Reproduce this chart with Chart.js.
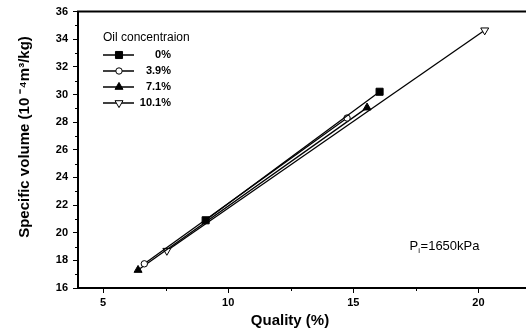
<!DOCTYPE html>
<html>
<head>
<meta charset="utf-8">
<script src="https://cdn.jsdelivr.net/npm/chart.js@4.4.1/dist/chart.umd.min.js"></script>
<style>
html, body { margin: 0; padding: 0; background: #fff; overflow: hidden; }
canvas { display: block; }
</style>
</head>
<body>
<canvas id="myChart" width="526" height="331"></canvas>
<script>
var concentrations = ['0%', '3.9%', '7.1%', '10.1%'];
var quality00 = [9.1, 16.05];
var volume00 = [20.9, 30.2];
var quality39 = [6.65, 14.75];
var volume39 = [17.75, 28.3];
var quality71 = [6.4, 15.55];
var volume71 = [17.3, 29.05];
var quality101 = [7.55, 20.25];
var volume101 = [18.7, 34.65];
var xTicks = [5, 10, 15, 20];
var xMinorTicks = [7.5, 12.5, 17.5];
var yTicks = [16, 18, 20, 22, 24, 26, 28, 30, 32, 34, 36];
var yMinorTicks = [17, 19, 21, 23, 25, 27, 29, 31, 33, 35];

var FONT = "'Liberation Sans', Arial, sans-serif";
Chart.defaults.font.family = FONT;
Chart.defaults.color = '#000';

function points(xs, ys) {
    return xs.map(function (x, i) { return { x: x, y: ys[i] }; });
}

// marker look for each series, same order as concentrations
var markers = [
    { style: 'rect', radius: 5, fill: '#000', rotation: 0 },
    { style: 'circle', radius: 3.2, fill: '#fff', rotation: 0 },
    { style: 'triangle', radius: 4.6, fill: '#000', rotation: 0 },
    { style: 'triangle', radius: 4.6, fill: '#fff', rotation: 180 }
];
var series = [
    points(quality00, volume00),
    points(quality39, volume39),
    points(quality71, volume71),
    points(quality101, volume101)
];

function drawMarker(ctx, m, x, y) {
    ctx.beginPath();
    if (m.style === 'rect') {
        var s = m.radius * Math.SQRT1_2;
        ctx.rect(x - s, y - s, 2 * s, 2 * s);
    } else if (m.style === 'circle') {
        ctx.arc(x, y, m.radius, 0, Math.PI * 2);
    } else {
        var rad = m.rotation * Math.PI / 180;
        for (var k = 0; k < 3; k++) {
            var px = x + Math.sin(rad) * m.radius, py = y - Math.cos(rad) * m.radius;
            if (k === 0) ctx.moveTo(px, py); else ctx.lineTo(px, py);
            rad += Math.PI * 2 / 3;
        }
        ctx.closePath();
    }
    ctx.fillStyle = m.fill;
    ctx.fill();
    ctx.stroke();
}

var decorations = {
    id: 'decorations',
    afterDraw: function (chart) {
        var ctx = chart.ctx, area = chart.chartArea;
        var xs = chart.scales.x, ys = chart.scales.y;
        ctx.save();
        ctx.strokeStyle = '#000';
        ctx.fillStyle = '#000';

        // top frame line
        ctx.lineWidth = 2;
        ctx.beginPath();
        ctx.moveTo(area.left - 1, area.top);
        ctx.lineTo(area.right, area.top);
        ctx.stroke();

        // minor ticks
        ctx.lineWidth = 1;
        ctx.beginPath();
        xMinorTicks.forEach(function (v) {
            var px = Math.round(xs.getPixelForValue(v)) + 0.5;
            ctx.moveTo(px, area.bottom);
            ctx.lineTo(px, area.bottom + 3);
        });
        yMinorTicks.forEach(function (v) {
            var py = Math.round(ys.getPixelForValue(v)) + 0.5;
            ctx.moveTo(area.left - 3, py);
            ctx.lineTo(area.left, py);
        });
        ctx.stroke();

        // axis titles
        ctx.font = 'bold 15px ' + FONT;
        ctx.textAlign = 'center';
        ctx.textBaseline = 'middle';
        ctx.fillText('Quality (%)', 290, 321);
        ctx.save();
        ctx.translate(25, 137);
        ctx.rotate(-Math.PI / 2);
        ctx.fillText('Specific volume (10 \u207B\u2074m\u00B3/kg)', 0, 0);
        ctx.restore();

        // legend
        var lx = 103, ly = 38;
        ctx.textAlign = 'left';
        ctx.font = '12px ' + FONT;
        ctx.fillText('Oil concentraion', lx, ly);
        ctx.font = 'bold 11px ' + FONT;
        concentrations.forEach(function (label, i) {
            var y = ly + 17 + i * 16;
            ctx.lineWidth = 1.5;
            ctx.beginPath();
            ctx.moveTo(lx, y);
            ctx.lineTo(lx + 31, y);
            ctx.stroke();
            ctx.lineWidth = 1;
            drawMarker(ctx, markers[i], lx + 16, y);
            ctx.fillStyle = '#000';
            ctx.textAlign = 'right';
            ctx.fillText(label, lx + 68, y);
        });

        // pressure note
        var nx = xs.getPixelForValue(17.25), ny = ys.getPixelForValue(18.75);
        ctx.textAlign = 'left';
        ctx.textBaseline = 'alphabetic';
        ctx.font = '13px ' + FONT;
        ctx.fillText('P', nx, ny);
        var w = ctx.measureText('P').width;
        ctx.font = '8px ' + FONT;
        ctx.fillText('i', nx + w, ny + 3);
        var wi = ctx.measureText('i').width;
        ctx.font = '13px ' + FONT;
        ctx.fillText('=1650kPa', nx + w + wi + 0.5, ny);
        ctx.restore();
    }
};

var ctx = document.getElementById('myChart').getContext('2d');
var myChart = new Chart(ctx, {
    type: 'scatter',
    data: {
        datasets: concentrations.map(function (label, i) {
            return {
                label: label,
                data: series[i],
                showLine: true,
                borderColor: '#000',
                borderWidth: 1.3,
                pointStyle: markers[i].style,
                pointRadius: markers[i].radius,
                pointHoverRadius: markers[i].radius,
                pointRotation: markers[i].rotation,
                pointBackgroundColor: markers[i].fill,
                pointBorderColor: '#000',
                pointBorderWidth: 1
            };
        })
    },
    options: {
        responsive: false,
        animation: false,
        layout: { autoPadding: false, padding: { top: 10, right: 0, left: 0, bottom: 0 } },
        plugins: {
            legend: { display: false },
            tooltip: { enabled: false }
        },
        scales: {
            x: {
                type: 'linear',
                min: 4,
                max: 21.9,
                afterBuildTicks: function (scale) {
                    scale.ticks = xTicks.map(function (v) { return { value: v }; });
                },
                afterFit: function (scale) {
                    scale.height = 43;
                    scale.paddingLeft = 0;
                    scale.paddingRight = 0;
                },
                border: { display: true, color: '#000', width: 2 },
                grid: { drawOnChartArea: false, drawTicks: true, tickLength: 5, tickColor: '#000', tickWidth: 1 },
                ticks: { font: { size: 11, weight: 'bold' }, color: '#000', padding: 3, maxRotation: 0, autoSkip: false }
            },
            y: {
                type: 'linear',
                min: 16,
                max: 36,
                afterBuildTicks: function (scale) {
                    scale.ticks = yTicks.map(function (v) { return { value: v }; });
                },
                afterFit: function (scale) { scale.width = 78; },
                border: { display: true, color: '#000', width: 2 },
                grid: { drawOnChartArea: false, drawTicks: true, tickLength: 5, tickColor: '#000', tickWidth: 1 },
                ticks: { font: { size: 11, weight: 'bold' }, color: '#000', padding: 5, autoSkip: false }
            }
        }
    },
    plugins: [decorations]
});
</script>
</body>
</html>
